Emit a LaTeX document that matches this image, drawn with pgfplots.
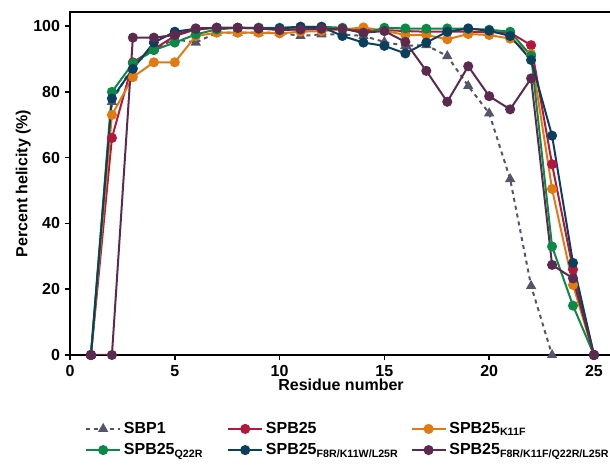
\documentclass[border=0pt]{standalone}
\usepackage{fontspec}
\setmainfont{Liberation Sans}
\usepackage{pgfplots}
\pgfplotsset{compat=1.18}

\definecolor{cSBP}{HTML}{55556A}
\definecolor{cRed}{HTML}{B3183C}
\definecolor{cOra}{HTML}{E27A12}
\definecolor{cGre}{HTML}{0B8A47}
\definecolor{cNav}{HTML}{0B3F5E}
\definecolor{cPur}{HTML}{5C2A4F}

\begin{document}
\begin{tikzpicture}
\begin{axis}[
    scale only axis,
    width=406.5pt, height=257.25pt,
    xmin=0, xmax=25.86, ymin=0, ymax=104.3,
    xtick={0,5,10,15,20,25},
    ytick={0,20,40,60,80,100},
    tick pos=left, tick align=outside,
    major tick length=4pt,
    axis line style={line width=1.1pt},
    every tick/.style={line width=1.1pt, black},
    /pgf/number format/assume math mode=true,
    ticklabel style={font=\fontsize{12}{14}\selectfont\bfseries},
    xlabel={\bfseries Residue number},
    ylabel={\bfseries Percent helicity (\%)},
    label style={font=\fontsize{12}{14}\selectfont},
    xlabel style={yshift=5pt},
    ylabel style={yshift=-5pt},
    every axis plot/.append style={line width=1.5pt, mark size=3pt},
    legend columns=3,
    legend style={draw=none, at={(axis description cs:0.02,-0.18)}, anchor=north west,
      font=\fontsize{12}{14}\selectfont\bfseries, row sep=2pt,
      /tikz/column 2/.style={column sep=16pt},
      /tikz/column 4/.style={column sep=7pt}},
    legend cell align=left,
    legend image code/.code={
      \draw[mark repeat=2, mark phase=2, #1] plot coordinates {(0cm,0cm) (0.45cm,0cm) (0.9cm,0cm)};
    },
]
\coordinate (bl) at (rel axis cs:0,0);
\draw[black, line width=1.1pt] (rel axis cs:0,1) -- (rel axis cs:1,1);
\addplot[cSBP, dashed, mark=triangle*, mark options={solid}] coordinates {
(1,0)(2,77)(3,88)(4,93)(5,96)(6,95)(7,98)(8,98)(9,98)(10,98)(11,97)(12,97.5)(13,97.5)(14,97)(15,95.2)(16,94)(17,94.2)(18,90.9)(19,81.8)(20,73.5)(21,53.5)(22,21)(23,0)
};
\addplot[cRed, mark=*] coordinates {
(1,0)(2,66)(3,89)(4,93)(5,97)(6,99)(7,99.5)(8,99.5)(9,99.5)(10,99)(11,99)(12,99)(13,99)(14,98.8)(15,98.8)(16,98.5)(17,98.3)(18,98.3)(19,98.3)(20,98.2)(21,98)(22,94.2)(23,58)(24,26)(25,0)
};
\addplot[cOra, mark=*] coordinates {
(1,0)(2,73)(3,84.5)(4,89)(5,89)(6,97)(7,98)(8,98)(9,98)(10,97.8)(11,98.3)(12,98.5)(13,99)(14,99.6)(15,98.6)(16,97.3)(17,97.3)(18,96)(19,97.6)(20,97.3)(21,96.2)(22,91.5)(23,50.5)(24,21.3)(25,0)
};
\addplot[cGre, mark=*] coordinates {
(1,0)(2,80)(3,88.7)(4,92.7)(5,95)(6,97.5)(7,99)(8,99.5)(9,99.5)(10,99.5)(11,99.8)(12,99.8)(13,99.5)(14,97.8)(15,99.5)(16,99.3)(17,99.2)(18,99.3)(19,99.2)(20,98.9)(21,98.3)(22,91)(23,33)(24,15)(25,0)
};
\addplot[cNav, mark=*] coordinates {
(1,0)(2,78)(3,87)(4,95)(5,98.3)(6,99.2)(7,99.5)(8,99.5)(9,99.3)(10,99.3)(11,99.8)(12,99.8)(13,97)(14,95)(15,94)(16,91.7)(17,95)(18,98.3)(19,99.3)(20,98.6)(21,97)(22,89.7)(23,66.7)(24,28)(25,0)
};
\addplot[cPur, mark=*] coordinates {
(1,0)(2,0)(3,96.5)(4,96.5)(5,97.3)(6,99.3)(7,99.5)(8,99.5)(9,99.3)(10,98.8)(11,99)(12,99.2)(13,99.2)(14,98)(15,98.5)(16,95.2)(17,86.4)(18,77)(19,87.8)(20,78.7)(21,74.7)(22,84.1)(23,27.4)(24,23.3)(25,0)
};
\legend{SBP1, SPB25, SPB25\textsubscript{K11F}, SPB25\textsubscript{Q22R}, SPB25\textsubscript{F8R/K11W/L25R}, SPB25\textsubscript{F8R/K11F/Q22R/L25R}}
\end{axis}
\pgfresetboundingbox
\path[use as bounding box] ([shift={(-52.5pt,-83.25pt)}]bl) rectangle ([shift={(405pt,266.25pt)}]bl);
\end{tikzpicture}
\end{document}
